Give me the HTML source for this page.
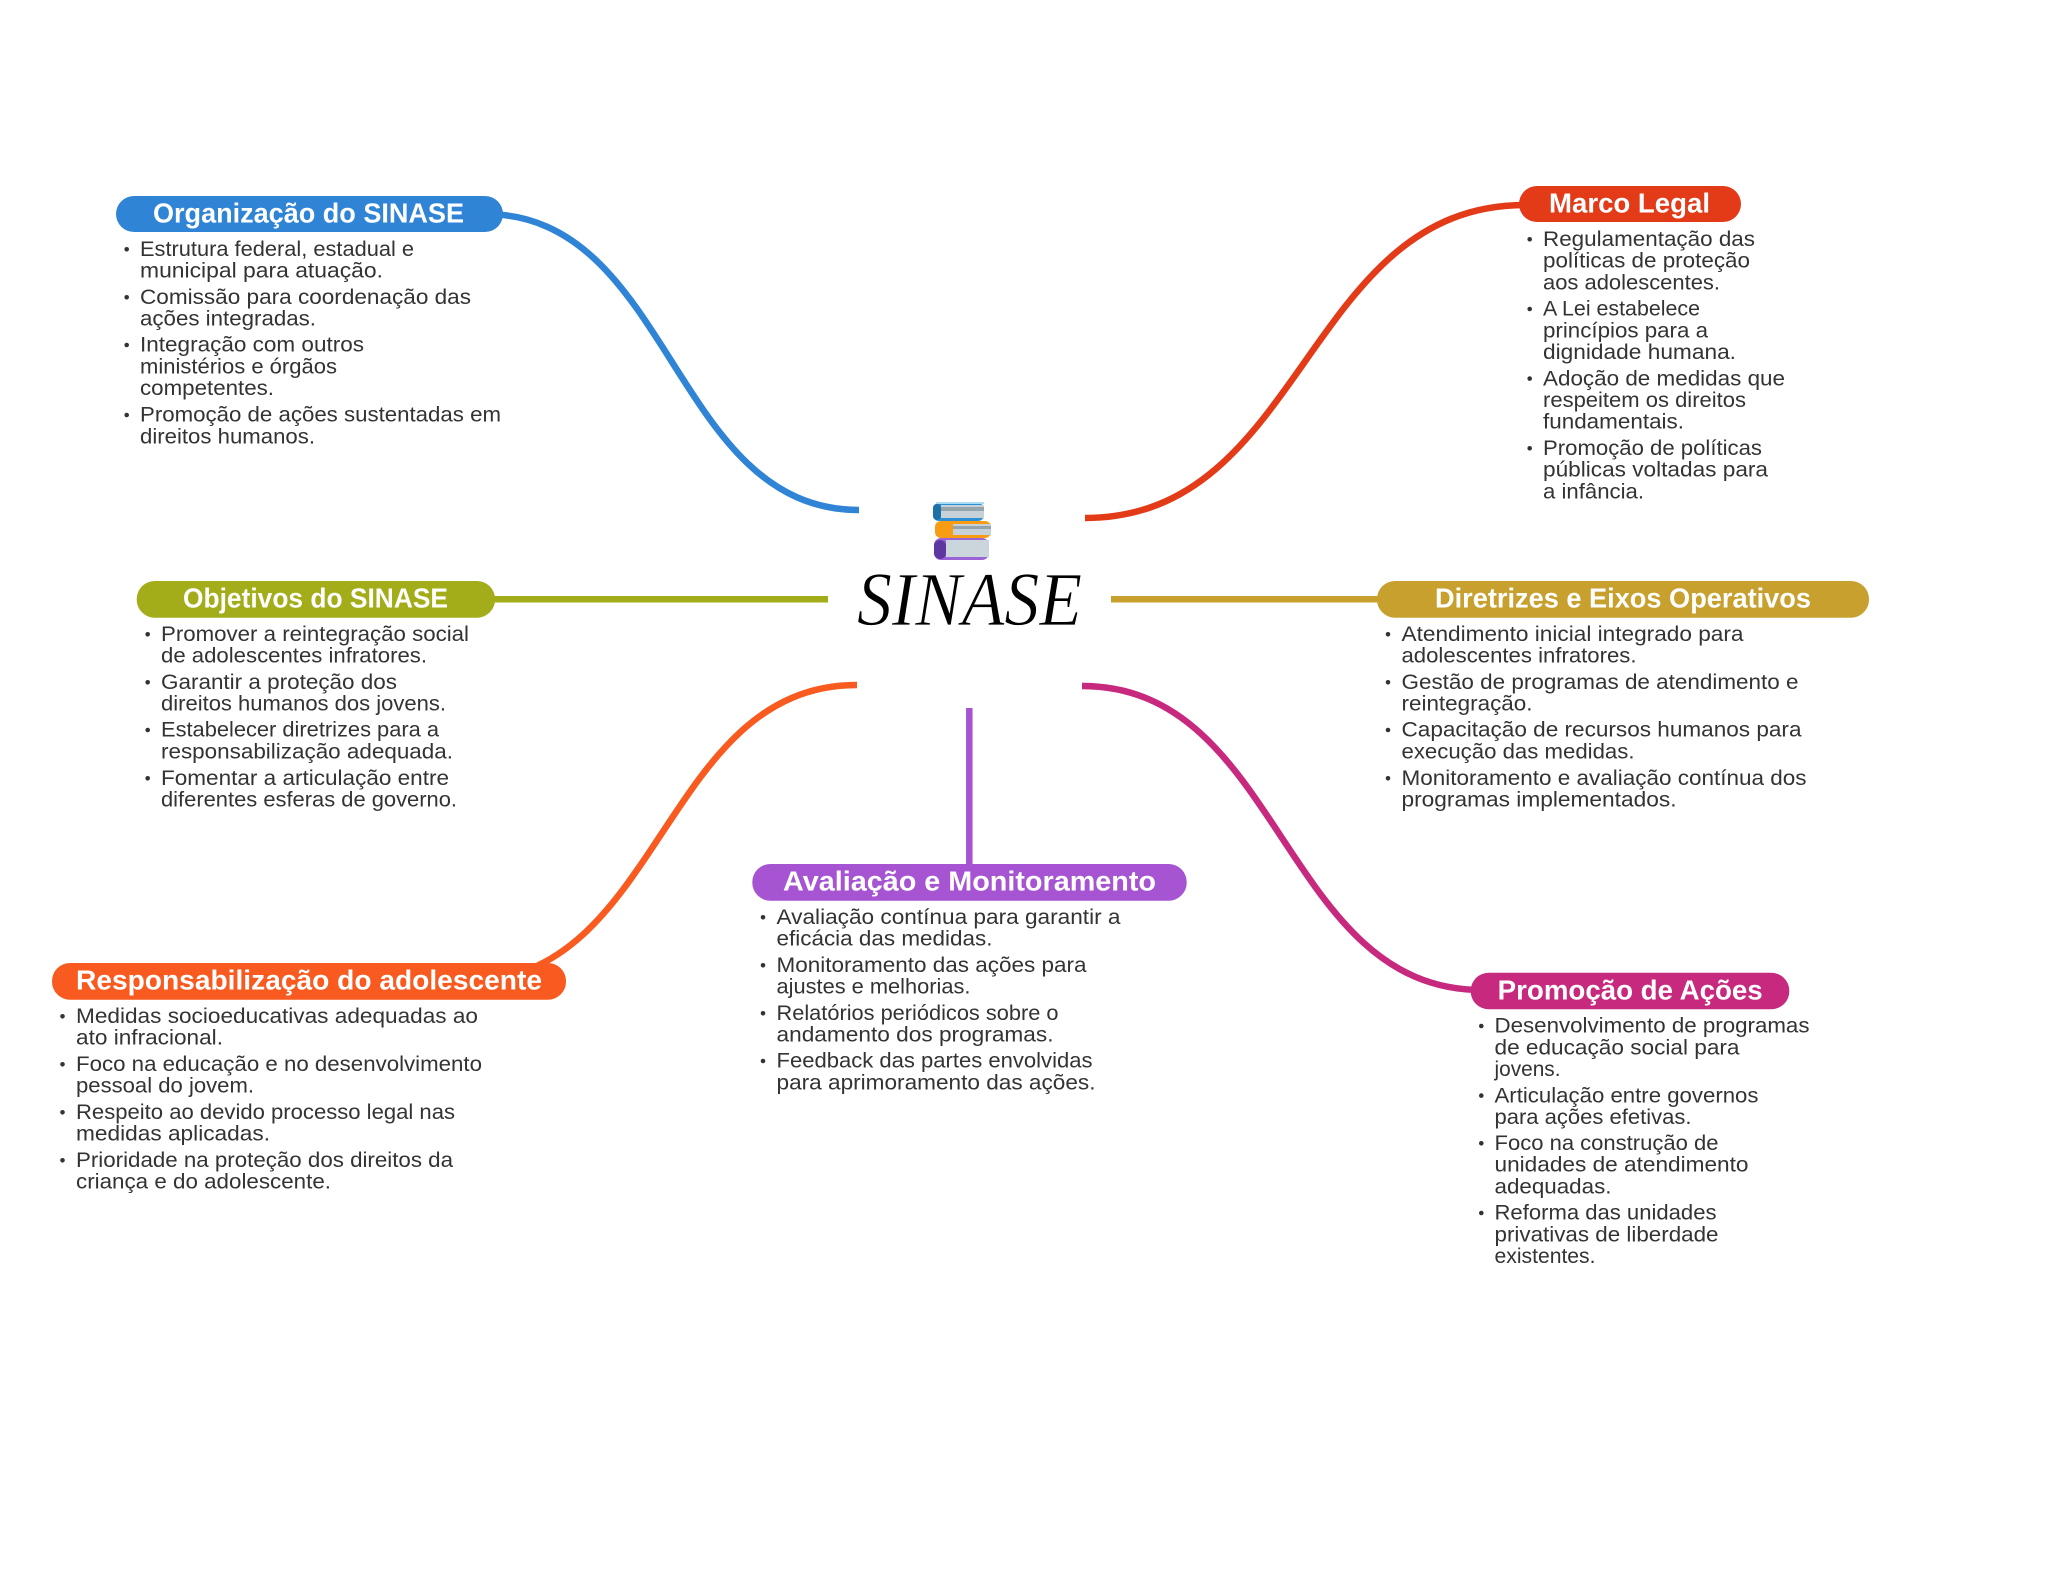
<!DOCTYPE html>
<html lang="pt">
<head>
<meta charset="utf-8">
<title>SINASE</title>
<style>
html,body{margin:0;padding:0;background:#fff;width:2048px;height:1569px;overflow:hidden}
svg{display:block;filter:blur(.35px)}
.b{font:21px "Liberation Sans",sans-serif;fill:#333}
.t{font:bold 27.5px "Liberation Sans",sans-serif;fill:#fff}
.c{fill:none;stroke-width:6.5}
</style>
</head>
<body>
<svg xmlns="http://www.w3.org/2000/svg" width="2048" height="1569" viewBox="0 0 2048 1569">
<rect width="2048" height="1569" fill="#fff"/>

<!-- connectors -->
<path class="c" stroke="#3084d6" d="M485,214 C672,214 672,510 859,510"/>
<path class="c" stroke="#e33a18" d="M1085,518 C1305,518 1305,205 1525,205"/>
<path class="c" stroke="#a3ad19" d="M490,599.3 H828"/>
<path class="c" stroke="#c8a02e" d="M1111,599.3 H1385"/>
<path class="c" stroke="#f85a1f" d="M857,685 C662,685 662,981 467,981"/>
<path class="c" stroke="#c7297f" d="M1082,686 C1282,686 1282,990 1482,990"/>
<path class="c" stroke="#a654d2" d="M969.3,708 V870"/>

<!-- center -->
<g>
  <rect x="933" y="503" width="51" height="18" rx="6" fill="#2f8fd4"/>
  <rect x="936" y="502" width="48" height="2" fill="#a8dcf5"/>
  <rect x="933" y="504" width="8" height="16" rx="4" fill="#1f6fa8"/>
  <rect x="941" y="505" width="43" height="13" fill="#c6d2d8"/>
  <rect x="941" y="507" width="43" height="4" fill="#94a5ad"/>
  <rect x="935" y="521" width="56" height="17" rx="6" fill="#f89c14"/>
  <rect x="953" y="524" width="38" height="11" fill="#c6d2d8"/>
  <rect x="953" y="526" width="38" height="3" fill="#94a5ad"/>
  <rect x="934" y="538" width="55" height="22" rx="7" fill="#9a63d6"/>
  <rect x="934" y="540" width="12" height="19" rx="6" fill="#5f37a0"/>
  <rect x="946" y="540" width="43" height="17" fill="#cad5dc"/>
  <text x="857" y="625" textLength="225" lengthAdjust="spacingAndGlyphs" stroke="#fff" stroke-width=".7" style="font:italic 76px 'Liberation Serif',serif;fill:#000">SINASE</text>
</g>

<!-- Organização do SINASE -->
<rect x="116" y="196" width="387" height="36" rx="18" fill="#3084d6"/>
<text class="t" x="153" y="222.7" textLength="311" lengthAdjust="spacingAndGlyphs">Organização do SINASE</text>
<g fill="#333">
<circle cx="126.7" cy="249.3" r="2.3"/><circle cx="126.7" cy="297.3" r="2.3"/><circle cx="126.7" cy="345" r="2.3"/><circle cx="126.7" cy="415" r="2.3"/>
</g>
<text class="b" x="140" y="256" textLength="274" lengthAdjust="spacingAndGlyphs">Estrutura federal, estadual e</text>
<text class="b" x="140" y="277.7" textLength="243" lengthAdjust="spacingAndGlyphs">municipal para atuação.</text>
<text class="b" x="140" y="304" textLength="331" lengthAdjust="spacingAndGlyphs">Comissão para coordenação das</text>
<text class="b" x="140" y="325.7" textLength="176" lengthAdjust="spacingAndGlyphs">ações integradas.</text>
<text class="b" x="140" y="351.7" textLength="224" lengthAdjust="spacingAndGlyphs">Integração com outros</text>
<text class="b" x="140" y="373.3" textLength="197" lengthAdjust="spacingAndGlyphs">ministérios e órgãos</text>
<text class="b" x="140" y="395" textLength="134" lengthAdjust="spacingAndGlyphs">competentes.</text>
<text class="b" x="140" y="421.7" textLength="361" lengthAdjust="spacingAndGlyphs">Promoção de ações sustentadas em</text>
<text class="b" x="140" y="443.3" textLength="175" lengthAdjust="spacingAndGlyphs">direitos humanos.</text>

<!-- Marco Legal -->
<rect x="1519" y="186" width="222" height="36" rx="18" fill="#e33a18"/>
<text class="t" x="1549" y="212.7" textLength="161" lengthAdjust="spacingAndGlyphs">Marco Legal</text>
<g fill="#333">
<circle cx="1529.7" cy="239.3" r="2.3"/><circle cx="1529.7" cy="309" r="2.3"/><circle cx="1529.7" cy="378.6" r="2.3"/><circle cx="1529.7" cy="448.3" r="2.3"/>
</g>
<text class="b" x="1543" y="246" textLength="212" lengthAdjust="spacingAndGlyphs">Regulamentação das</text>
<text class="b" x="1543" y="267.7" textLength="207" lengthAdjust="spacingAndGlyphs">políticas de proteção</text>
<text class="b" x="1543" y="289.3" textLength="177" lengthAdjust="spacingAndGlyphs">aos adolescentes.</text>
<text class="b" x="1543" y="315.7" textLength="157" lengthAdjust="spacingAndGlyphs">A Lei estabelece</text>
<text class="b" x="1543" y="337.3" textLength="165" lengthAdjust="spacingAndGlyphs">princípios para a</text>
<text class="b" x="1543" y="359" textLength="193" lengthAdjust="spacingAndGlyphs">dignidade humana.</text>
<text class="b" x="1543" y="385.3" textLength="242" lengthAdjust="spacingAndGlyphs">Adoção de medidas que</text>
<text class="b" x="1543" y="407" textLength="203" lengthAdjust="spacingAndGlyphs">respeitem os direitos</text>
<text class="b" x="1543" y="428.7" textLength="141" lengthAdjust="spacingAndGlyphs">fundamentais.</text>
<text class="b" x="1543" y="455" textLength="219" lengthAdjust="spacingAndGlyphs">Promoção de políticas</text>
<text class="b" x="1543" y="476.7" textLength="225" lengthAdjust="spacingAndGlyphs">públicas voltadas para</text>
<text class="b" x="1543" y="498.7" textLength="101" lengthAdjust="spacingAndGlyphs">a infância.</text>

<!-- Objetivos do SINASE -->
<rect x="136.7" y="581" width="358.3" height="36.7" rx="18" fill="#a3ad19"/>
<text class="t" x="183" y="607.3" textLength="265" lengthAdjust="spacingAndGlyphs">Objetivos do SINASE</text>
<g fill="#333">
<circle cx="147.7" cy="634.3" r="2.3"/><circle cx="147.7" cy="682.3" r="2.3"/><circle cx="147.7" cy="730" r="2.3"/><circle cx="147.7" cy="778.3" r="2.3"/>
</g>
<text class="b" x="161" y="641" textLength="308" lengthAdjust="spacingAndGlyphs">Promover a reintegração social</text>
<text class="b" x="161" y="662.7" textLength="266" lengthAdjust="spacingAndGlyphs">de adolescentes infratores.</text>
<text class="b" x="161" y="689" textLength="236" lengthAdjust="spacingAndGlyphs">Garantir a proteção dos</text>
<text class="b" x="161" y="710.7" textLength="285" lengthAdjust="spacingAndGlyphs">direitos humanos dos jovens.</text>
<text class="b" x="161" y="736.7" textLength="278" lengthAdjust="spacingAndGlyphs">Estabelecer diretrizes para a</text>
<text class="b" x="161" y="758.3" textLength="292" lengthAdjust="spacingAndGlyphs">responsabilização adequada.</text>
<text class="b" x="161" y="785" textLength="288" lengthAdjust="spacingAndGlyphs">Fomentar a articulação entre</text>
<text class="b" x="161" y="806.7" textLength="296" lengthAdjust="spacingAndGlyphs">diferentes esferas de governo.</text>

<!-- Diretrizes e Eixos Operativos -->
<rect x="1377" y="581" width="492" height="36.7" rx="18" fill="#c8a02e"/>
<text class="t" x="1435" y="607.3" textLength="376" lengthAdjust="spacingAndGlyphs">Diretrizes e Eixos Operativos</text>
<g fill="#333">
<circle cx="1388" cy="634.3" r="2.3"/><circle cx="1388" cy="682.3" r="2.3"/><circle cx="1388" cy="730" r="2.3"/><circle cx="1388" cy="778.3" r="2.3"/>
</g>
<text class="b" x="1401.5" y="641" textLength="342" lengthAdjust="spacingAndGlyphs">Atendimento inicial integrado para</text>
<text class="b" x="1401.5" y="662.7" textLength="235" lengthAdjust="spacingAndGlyphs">adolescentes infratores.</text>
<text class="b" x="1401.5" y="689" textLength="397" lengthAdjust="spacingAndGlyphs">Gestão de programas de atendimento e</text>
<text class="b" x="1401.5" y="710.7" textLength="131" lengthAdjust="spacingAndGlyphs">reintegração.</text>
<text class="b" x="1401.5" y="736.7" textLength="400" lengthAdjust="spacingAndGlyphs">Capacitação de recursos humanos para</text>
<text class="b" x="1401.5" y="758.3" textLength="233" lengthAdjust="spacingAndGlyphs">execução das medidas.</text>
<text class="b" x="1401.5" y="785" textLength="405" lengthAdjust="spacingAndGlyphs">Monitoramento e avaliação contínua dos</text>
<text class="b" x="1401.5" y="806.7" textLength="275" lengthAdjust="spacingAndGlyphs">programas implementados.</text>

<!-- Avaliação e Monitoramento -->
<rect x="752.3" y="864" width="434.4" height="36.7" rx="18" fill="#a654d2"/>
<text class="t" x="783" y="890.7" textLength="373" lengthAdjust="spacingAndGlyphs">Avaliação e Monitoramento</text>
<g fill="#333">
<circle cx="763" cy="917.3" r="2.3"/><circle cx="763" cy="965.3" r="2.3"/><circle cx="763" cy="1013.3" r="2.3"/><circle cx="763" cy="1061" r="2.3"/>
</g>
<text class="b" x="776.5" y="924" textLength="344" lengthAdjust="spacingAndGlyphs">Avaliação contínua para garantir a</text>
<text class="b" x="776.5" y="945.7" textLength="216" lengthAdjust="spacingAndGlyphs">eficácia das medidas.</text>
<text class="b" x="776.5" y="972" textLength="310" lengthAdjust="spacingAndGlyphs">Monitoramento das ações para</text>
<text class="b" x="776.5" y="993.7" textLength="194" lengthAdjust="spacingAndGlyphs">ajustes e melhorias.</text>
<text class="b" x="776.5" y="1020" textLength="282" lengthAdjust="spacingAndGlyphs">Relatórios periódicos sobre o</text>
<text class="b" x="776.5" y="1041.7" textLength="277" lengthAdjust="spacingAndGlyphs">andamento dos programas.</text>
<text class="b" x="776.5" y="1067.7" textLength="316" lengthAdjust="spacingAndGlyphs">Feedback das partes envolvidas</text>
<text class="b" x="776.5" y="1089.4" textLength="319" lengthAdjust="spacingAndGlyphs">para aprimoramento das ações.</text>

<!-- Responsabilização do adolescente -->
<rect x="52" y="963" width="514" height="36.7" rx="18" fill="#f85a1f"/>
<text class="t" x="76" y="989.6" textLength="466" lengthAdjust="spacingAndGlyphs">Responsabilização do adolescente</text>
<g fill="#333">
<circle cx="62.5" cy="1016.3" r="2.3"/><circle cx="62.5" cy="1064.3" r="2.3"/><circle cx="62.5" cy="1112.3" r="2.3"/><circle cx="62.5" cy="1160.3" r="2.3"/>
</g>
<text class="b" x="76" y="1023" textLength="402" lengthAdjust="spacingAndGlyphs">Medidas socioeducativas adequadas ao</text>
<text class="b" x="76" y="1044.7" textLength="147" lengthAdjust="spacingAndGlyphs">ato infracional.</text>
<text class="b" x="76" y="1071" textLength="406" lengthAdjust="spacingAndGlyphs">Foco na educação e no desenvolvimento</text>
<text class="b" x="76" y="1092.7" textLength="178" lengthAdjust="spacingAndGlyphs">pessoal do jovem.</text>
<text class="b" x="76" y="1119" textLength="379" lengthAdjust="spacingAndGlyphs">Respeito ao devido processo legal nas</text>
<text class="b" x="76" y="1140.7" textLength="194" lengthAdjust="spacingAndGlyphs">medidas aplicadas.</text>
<text class="b" x="76" y="1167" textLength="377" lengthAdjust="spacingAndGlyphs">Prioridade na proteção dos direitos da</text>
<text class="b" x="76" y="1188.7" textLength="255" lengthAdjust="spacingAndGlyphs">criança e do adolescente.</text>

<!-- Promoção de Ações -->
<rect x="1470.7" y="972.7" width="318.6" height="36.6" rx="18" fill="#c7297f"/>
<text class="t" x="1497.7" y="999.3" textLength="265" lengthAdjust="spacingAndGlyphs">Promoção de Ações</text>
<g fill="#333">
<circle cx="1481.3" cy="1026" r="2.3"/><circle cx="1481.3" cy="1095.6" r="2.3"/><circle cx="1481.3" cy="1143.3" r="2.3"/><circle cx="1481.3" cy="1213" r="2.3"/>
</g>
<text class="b" x="1494.5" y="1032.7" textLength="315" lengthAdjust="spacingAndGlyphs">Desenvolvimento de programas</text>
<text class="b" x="1494.5" y="1054.3" textLength="245" lengthAdjust="spacingAndGlyphs">de educação social para</text>
<text class="b" x="1494.5" y="1076" textLength="66" lengthAdjust="spacingAndGlyphs">jovens.</text>
<text class="b" x="1494.5" y="1102.3" textLength="264" lengthAdjust="spacingAndGlyphs">Articulação entre governos</text>
<text class="b" x="1494.5" y="1124" textLength="197" lengthAdjust="spacingAndGlyphs">para ações efetivas.</text>
<text class="b" x="1494.5" y="1150" textLength="224" lengthAdjust="spacingAndGlyphs">Foco na construção de</text>
<text class="b" x="1494.5" y="1171.7" textLength="254" lengthAdjust="spacingAndGlyphs">unidades de atendimento</text>
<text class="b" x="1494.5" y="1193.4" textLength="117" lengthAdjust="spacingAndGlyphs">adequadas.</text>
<text class="b" x="1494.5" y="1219.7" textLength="222" lengthAdjust="spacingAndGlyphs">Reforma das unidades</text>
<text class="b" x="1494.5" y="1241.4" textLength="224" lengthAdjust="spacingAndGlyphs">privativas de liberdade</text>
<text class="b" x="1494.5" y="1263" textLength="101" lengthAdjust="spacingAndGlyphs">existentes.</text>
</svg>
</body>
</html>
